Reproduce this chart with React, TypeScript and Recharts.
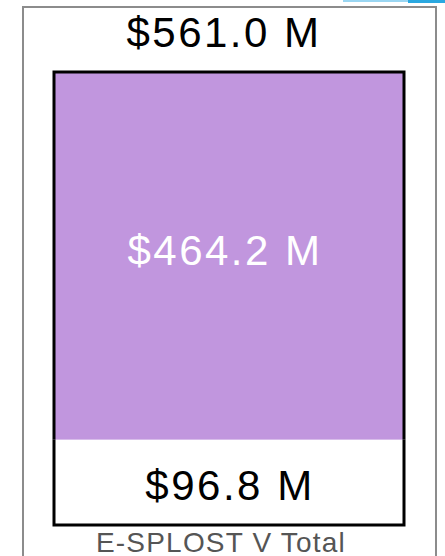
import { BarChart, Bar, XAxis, YAxis, LabelList } from "recharts";

const categories = ["E-SPLOST V Total"];
const remaining = [96.8];
const spent = [464.2];
const totals = [561.0];
const yDomain: [number, number] = [-11, 561];

const data = categories.map((name, i) => ({
  name,
  remaining: remaining[i],
  spent: spent[i],
  total: totals[i],
}));

const FONT = "'Liberation Sans', Arial, sans-serif";
const fmt = (v: number) => `$${v.toFixed(1)} M`;
const EDGE = 3;

// purple top segment: fill plus top/left/right edges of the frame
function SpentShape(props: any) {
  const { x, y, width, height, fill } = props;
  return (
    <g>
      <rect x={x} y={y} width={width} height={height} fill={fill} />
      <path
        d={`M${x},${y + height} L${x},${y} L${x + width},${y} L${x + width},${y + height}`}
        fill="none"
        stroke="#000"
        strokeWidth={EDGE}
      />
    </g>
  );
}

// white bottom segment runs down to the plot floor and closes the frame
function RemainingShape(props: any) {
  const { x, y, width, height, fill, background } = props;
  const bottom = background ? background.y + background.height : y + height;
  return (
    <g>
      <rect x={x} y={y} width={width} height={bottom - y} fill={fill} />
      <path
        d={`M${x},${y} L${x},${bottom} L${x + width},${bottom} L${x + width},${y}`}
        fill="none"
        stroke="#000"
        strokeWidth={EDGE}
      />
    </g>
  );
}

function TopLabel(props: any) {
  const { x, y, width, index } = props;
  return (
    <text
      x={x + width / 2 - 5}
      y={y - 25}
      textAnchor="middle"
      fontFamily={FONT}
      fontSize={42}
      letterSpacing={2.5}
      fill="#000"
    >
      {fmt(totals[index])}
    </text>
  );
}

function MidLabel(props: any) {
  const { x, y, width, height, value } = props;
  return (
    <text
      x={x + width / 2 - 4}
      y={y + height / 2 + 9}
      textAnchor="middle"
      fontFamily={FONT}
      fontSize={42}
      letterSpacing={2.5}
      fill="#fff"
    >
      {fmt(value)}
    </text>
  );
}

function LowLabel(props: any) {
  const { x, y, width, height, value } = props;
  return (
    <text
      x={x + width / 2 + 1}
      y={y + height / 2 + 22}
      textAnchor="middle"
      fontFamily={FONT}
      fontSize={42}
      letterSpacing={2.5}
      fill="#000"
    >
      {fmt(value)}
    </text>
  );
}

export default function App() {
  return (
    <div
      style={{
        position: "absolute",
        left: 0,
        top: 0,
        width: 445,
        height: 556,
        overflow: "hidden",
        background: "#fff",
      }}
    >
      <div style={{ position: "absolute", left: 343, top: 0, width: 65, height: 2, background: "#9ad6f2" }} />
      <div style={{ position: "absolute", left: 408, top: 0, width: 37, height: 3, background: "#2aa8e0" }} />
      <div
        style={{
          position: "absolute",
          left: 22,
          top: 6,
          width: 415,
          height: 600,
          border: "2px solid #8c8c8c",
          boxSizing: "border-box",
        }}
      />
      <div style={{ position: "absolute", left: 0, top: 0 }}>
        <BarChart
          width={445}
          height={556}
          data={data}
          margin={{ top: 72, right: 41, bottom: 0, left: 54 }}
          barCategoryGap={0}
        >
          <XAxis
            dataKey="name"
            axisLine={false}
            tickLine={false}
            height={31}
            tickMargin={1}
            tick={{ fill: "#555", fontSize: 28, fontFamily: FONT, letterSpacing: 1.2, dx: -8 }}
          />
          <YAxis hide domain={yDomain} />
          <Bar
            dataKey="remaining"
            stackId="a"
            fill="#fff"
            shape={RemainingShape}
            isAnimationActive={false}
          >
            <LabelList dataKey="remaining" content={LowLabel} />
          </Bar>
          <Bar
            dataKey="spent"
            stackId="a"
            fill="#c196de"
            shape={SpentShape}
            isAnimationActive={false}
          >
            <LabelList dataKey="spent" content={MidLabel} />
            <LabelList dataKey="total" content={TopLabel} />
          </Bar>
        </BarChart>
      </div>
    </div>
  );
}
